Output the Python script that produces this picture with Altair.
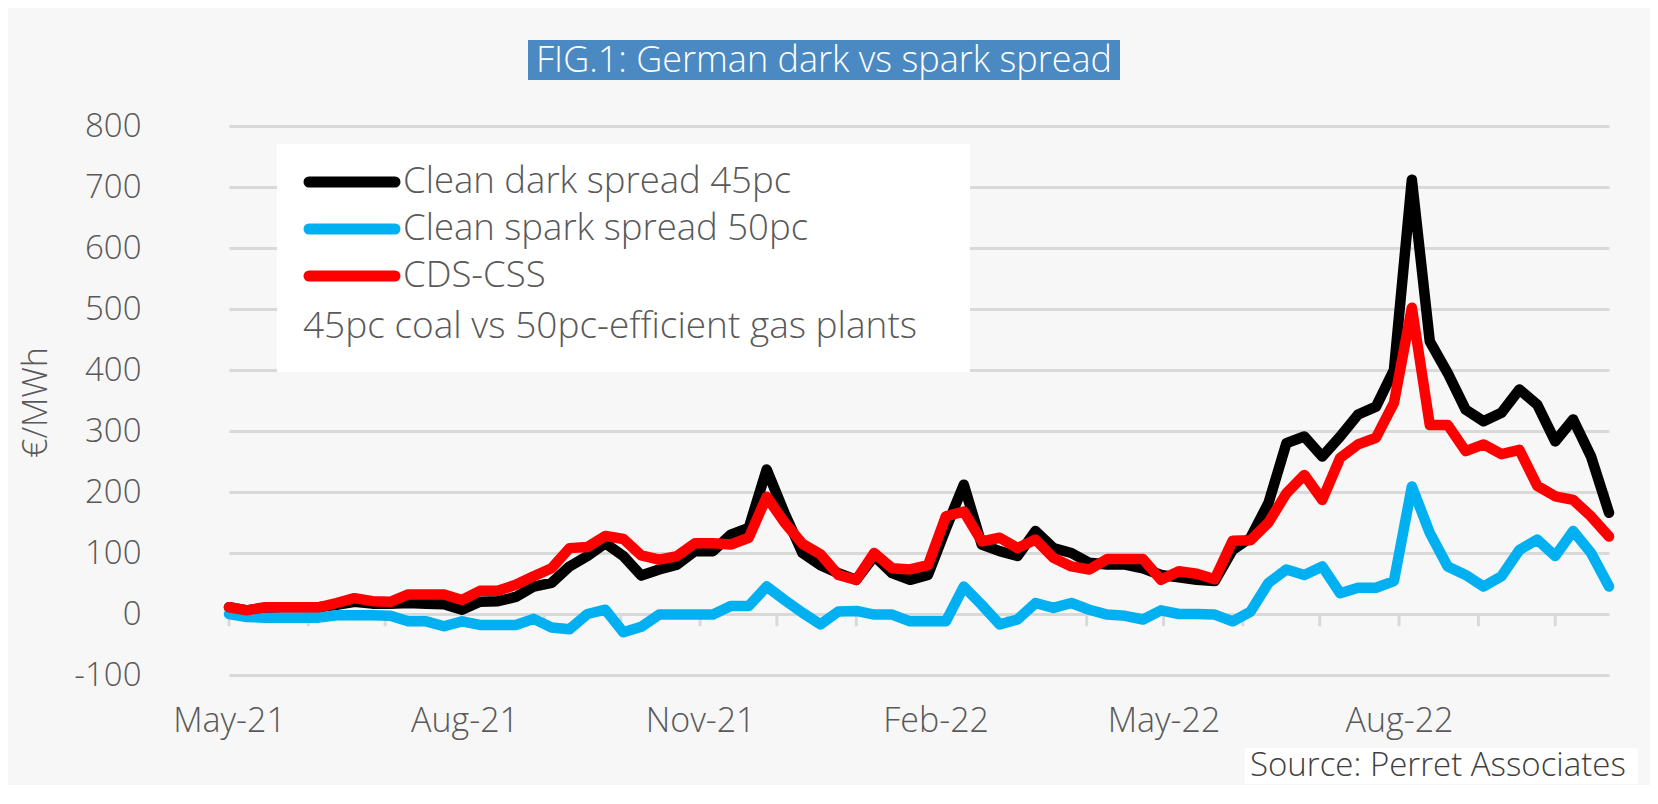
import altair as alt
import pandas as pd

# ---------------- data ----------------
dates = pd.date_range("2021-05-01", periods=78, freq="7D").strftime("%Y-%m-%d").tolist()

dark = [11, 6, 10, 11, 11, 11, 15, 20, 17, 17,
        18, 17, 16, 7, 20, 21, 28, 45, 51, 78,
        95, 116, 95, 63, 73, 81, 103, 103, 130, 141,
        237, 165, 100, 80, 67, 56, 95, 67, 56, 64,
        140, 212, 114, 103, 95, 136, 108, 100, 84, 81,
        81, 75, 64, 60, 56, 54, 105, 125, 182, 280,
        291, 258, 291, 327, 340, 400, 712, 447, 395, 335,
        316, 330, 368, 343, 283, 319, 258, 166]

spark = [0, -5, -6, -6, -6, -6, -2, -2, -2, -3,
         -12, -12, -20, -12, -18, -18, -18, -8, -22, -25,
         0, 7, -30, -21, -1, -1, -1, -1, 13, 13,
         45, 23, 2, -17, 4, 5, -1, -1, -12, -12,
         -12, 45, 15, -17, -9, 18, 10, 18, 7, -1,
         -3, -9, 6, 0, 0, -1, -12, 4, 51, 73,
         64, 78, 34, 43, 43, 54, 209, 133, 78, 64,
         45, 62, 105, 122, 95, 136, 100, 45]

cds = [11, 6, 11, 11, 11, 11, 18, 26, 21, 20,
       32, 32, 32, 23, 38, 38, 48, 62, 75, 108,
       110, 128, 123, 96, 89, 95, 116, 116, 114, 125,
       192, 150, 115, 98, 64, 56, 100, 75, 73, 80,
       160, 168, 119, 125, 108, 122, 92, 78, 73, 90,
       90, 90, 56, 70, 66, 57, 120, 121, 150, 198,
       228, 187, 256, 278, 289, 346, 502, 310, 310, 267,
       278, 262, 269, 210, 193, 187, 160, 127]

series_names = ["Clean dark spread 45pc", "Clean spark spread 50pc", "CDS-CSS"]
series_colors = ["#000000", "#00b0f0", "#ff0000"]
series_values = [dark, spark, cds]

y_ticks = [-100, 0, 100, 200, 300, 400, 500, 600, 700, 800]
x_label_dates = [(2021, 5), (2021, 8), (2021, 11), (2022, 2), (2022, 5), (2022, 8)]
tick_dates = ["2021-05-01", "2021-06-01", "2021-07-01", "2021-08-01", "2021-09-01",
              "2021-10-01", "2021-11-01", "2021-12-01", "2022-01-01", "2022-02-01",
              "2022-03-01", "2022-04-01", "2022-05-01", "2022-06-01", "2022-07-01",
              "2022-08-01", "2022-09-01", "2022-10-01"]

title_text = "FIG.1: German dark vs spark spread"
note_text = "45pc coal vs 50pc-efficient gas plants"
source_text = "Source: Perret Associates"
y_title = "€/MWh"

FONT = "Open Sans"
TXT = "#595959"
GRID = "#d9d9d9"

rows = []
for name, vals in zip(series_names, series_values):
    for d, v in zip(dates, vals):
        rows.append({"date": d, "value": v, "series": name})
df = pd.DataFrame(rows)

x_scale = alt.Scale(
    type="utc",
    domain=[alt.DateTime(year=2021, month=5, date=1, utc=True),
            alt.DateTime(year=2022, month=10, date=22, utc=True)],
)
y_scale = alt.Scale(domain=[-100, 800], nice=False, zero=False)

x_axis = alt.Axis(
    values=[alt.DateTime(year=y, month=m, date=1, utc=True) for y, m in x_label_dates],
    labelExpr="utcFormat(datum.value, '%b-%y')",
    ticks=False, domain=False, grid=False,
    labelPadding=29, labelFontSize=34, labelColor=TXT, labelFont=FONT,
    labelFontWeight=300, labelFlush=False, labelOverlap=False, title=None,
)
y_axis = alt.Axis(
    values=y_ticks, grid=True, gridColor=GRID, gridWidth=3,
    labelExpr="datum.value < 0 ? '-' + abs(datum.value) : '' + datum.value",
    ticks=False, domain=False, labelPadding=88, labelFontSize=33,
    labelColor=TXT, labelFont=FONT, labelFontWeight=300,
    title=y_title, titleFontSize=34, titleFont=FONT, titleFontWeight=300,
    titleColor=TXT, titleX=-193, titleY=276, titleAngle=-90,
    titleAlign="center", titleBaseline="middle",
)

color_scale = alt.Scale(domain=series_names, range=series_colors)

# month ticks on the zero line
ticks = alt.Chart(pd.DataFrame({"date": tick_dates})).mark_rule(
    color=GRID, strokeWidth=3
).encode(
    x=alt.X("date:T", scale=x_scale, axis=x_axis),
    y=alt.Y(datum=0, scale=y_scale, axis=y_axis),
    y2=alt.Y2(datum=-20),
)

line_layers = []
for name in [series_names[0], series_names[1], series_names[2]]:
    line_layers.append(
        alt.Chart(df).transform_filter(alt.datum.series == name).mark_line(
            strokeWidth=10.5, strokeJoin="round", strokeCap="round"
        ).encode(
            x=alt.X("date:T", scale=x_scale, axis=x_axis),
            y=alt.Y("value:Q", scale=y_scale, axis=y_axis),
            color=alt.Color("series:N", scale=color_scale, legend=None),
        )
    )

one = pd.DataFrame({"t": [title_text]})

# legend box
legend_box = alt.Chart(one).mark_rect(color="white").encode(
    x=alt.value(48), x2=alt.value(741), y=alt.value(18), y2=alt.value(246)
)
legend_layers = [legend_box]
row_y = [56, 103, 150]
for i, (name, col) in enumerate(zip(series_names, series_colors)):
    legend_layers.append(
        alt.Chart(pd.DataFrame({"t": [name]})).mark_rule(
            color=col, strokeWidth=11, strokeCap="round"
        ).encode(x=alt.value(80), x2=alt.value(166), y=alt.value(row_y[i]))
    )
    legend_layers.append(
        alt.Chart(pd.DataFrame({"t": [name]})).mark_text(
            align="left", baseline="middle", font=FONT, fontSize=36.5,
            fontWeight=300, color=TXT
        ).encode(text="t:N", x=alt.value(174), y=alt.value(row_y[i]))
    )
legend_layers.append(
    alt.Chart(pd.DataFrame({"t": [note_text]})).mark_text(
        align="left", baseline="middle", font=FONT, fontSize=37,
        fontWeight=300, color=TXT
    ).encode(text="t:N", x=alt.value(74), y=alt.value(201))
)

# title box
title_box = alt.Chart(one).mark_rect(color="#4a89c2").encode(
    x=alt.value(299), x2=alt.value(891), y=alt.value(-86), y2=alt.value(-46)
)
title_txt = alt.Chart(one).mark_text(
    align="center", baseline="middle", font=FONT, fontSize=36,
    fontWeight=300, color="white"
).encode(text="t:N", x=alt.value(595), y=alt.value(-65))

# source
src_df = pd.DataFrame({"t": [source_text]})
src_box = alt.Chart(src_df).mark_rect(color="white").encode(
    x=alt.value(1016), x2=alt.value(1409), y=alt.value(622), y2=alt.value(658)
)
src_txt = alt.Chart(src_df).mark_text(
    align="left", baseline="middle", font=FONT, fontSize=33,
    fontWeight=300, color="#404040"
).encode(text="t:N", x=alt.value(1021), y=alt.value(640))

chart = alt.layer(
    ticks, *line_layers, *legend_layers, title_box, title_txt, src_box, src_txt
).properties(
    width=1380, height=549,
    autosize=alt.AutoSizeParams(type="none"),
    padding={"left": 221, "top": 118, "right": 41, "bottom": 110},
    background="#f7f7f7",
).configure_view(stroke=None)

chart.save("out.html", embed_options={"renderer": "svg", "actions": False})
